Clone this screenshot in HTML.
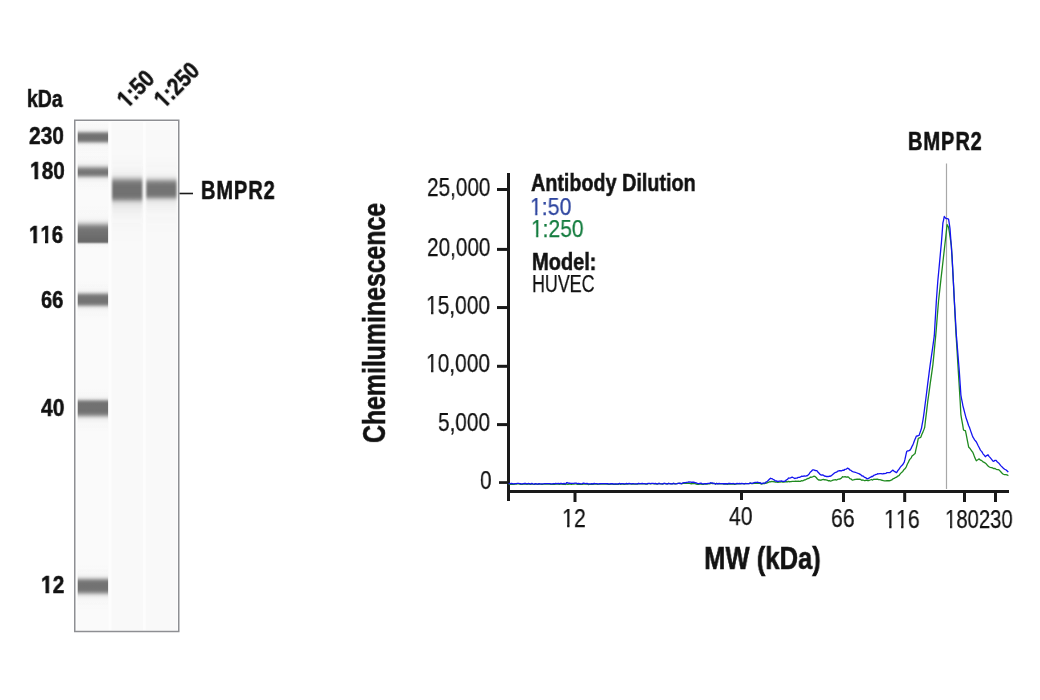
<!DOCTYPE html>
<html><head><meta charset="utf-8">
<style>
html,body{margin:0;padding:0;background:#fff;}
body{width:1040px;height:700px;position:relative;overflow:hidden;font-family:"Liberation Sans",sans-serif;color:#121212;}
.t{position:absolute;white-space:nowrap;line-height:1;transform-origin:0 0;will-change:transform;}
.b{font-weight:bold;-webkit-text-stroke:0.55px currentColor;}
.t:not(.b){-webkit-text-stroke:0.25px currentColor;}
svg{position:absolute;left:0;top:0;}
</style></head><body>
<svg width="1040" height="700" viewBox="0 0 1040 700">
<defs>
<filter id="bl" x="-20%" y="-50%" width="140%" height="200%"><feGaussianBlur stdDeviation="0.7 2"/></filter>
<filter id="blx" x="-20%" y="-20%" width="140%" height="140%"><feGaussianBlur stdDeviation="0.8 1"/></filter>
</defs>
<!-- blot -->
<rect x="75" y="120.5" width="103.5" height="511" fill="#fdfdfd"/>
<rect x="77.2" y="122" width="31.3" height="508.5" fill="#fafafa"/>
<rect x="111.5" y="122" width="31.5" height="508.5" fill="#f9f9f9"/>
<rect x="145.8" y="122" width="31.3" height="508.5" fill="#f9f9f9"/>
<defs><linearGradient id="lb0" gradientUnits="userSpaceOnUse" x1="0" y1="117.90" x2="0" y2="156.70"><stop offset="0.0000" stop-color="#717171" stop-opacity="0.000"/><stop offset="0.0129" stop-color="#717171" stop-opacity="0.000"/><stop offset="0.0258" stop-color="#717171" stop-opacity="0.000"/><stop offset="0.0387" stop-color="#717171" stop-opacity="0.001"/><stop offset="0.0515" stop-color="#717171" stop-opacity="0.001"/><stop offset="0.0644" stop-color="#717171" stop-opacity="0.001"/><stop offset="0.0773" stop-color="#717171" stop-opacity="0.001"/><stop offset="0.0902" stop-color="#717171" stop-opacity="0.002"/><stop offset="0.1031" stop-color="#717171" stop-opacity="0.002"/><stop offset="0.1160" stop-color="#717171" stop-opacity="0.003"/><stop offset="0.1289" stop-color="#717171" stop-opacity="0.004"/><stop offset="0.1418" stop-color="#717171" stop-opacity="0.005"/><stop offset="0.1546" stop-color="#717171" stop-opacity="0.006"/><stop offset="0.1675" stop-color="#717171" stop-opacity="0.008"/><stop offset="0.1804" stop-color="#717171" stop-opacity="0.010"/><stop offset="0.1933" stop-color="#717171" stop-opacity="0.012"/><stop offset="0.2062" stop-color="#717171" stop-opacity="0.014"/><stop offset="0.2191" stop-color="#717171" stop-opacity="0.017"/><stop offset="0.2320" stop-color="#717171" stop-opacity="0.020"/><stop offset="0.2448" stop-color="#717171" stop-opacity="0.024"/><stop offset="0.2577" stop-color="#717171" stop-opacity="0.029"/><stop offset="0.2706" stop-color="#717171" stop-opacity="0.038"/><stop offset="0.2835" stop-color="#717171" stop-opacity="0.051"/><stop offset="0.2964" stop-color="#717171" stop-opacity="0.072"/><stop offset="0.3093" stop-color="#717171" stop-opacity="0.107"/><stop offset="0.3222" stop-color="#717171" stop-opacity="0.159"/><stop offset="0.3351" stop-color="#717171" stop-opacity="0.233"/><stop offset="0.3479" stop-color="#717171" stop-opacity="0.327"/><stop offset="0.3608" stop-color="#717171" stop-opacity="0.437"/><stop offset="0.3737" stop-color="#717171" stop-opacity="0.556"/><stop offset="0.3866" stop-color="#717171" stop-opacity="0.670"/><stop offset="0.3995" stop-color="#717171" stop-opacity="0.772"/><stop offset="0.4124" stop-color="#717171" stop-opacity="0.853"/><stop offset="0.4253" stop-color="#717171" stop-opacity="0.913"/><stop offset="0.4381" stop-color="#717171" stop-opacity="0.952"/><stop offset="0.4510" stop-color="#717171" stop-opacity="0.976"/><stop offset="0.4639" stop-color="#717171" stop-opacity="0.989"/><stop offset="0.4768" stop-color="#717171" stop-opacity="0.995"/><stop offset="0.4897" stop-color="#717171" stop-opacity="0.998"/><stop offset="0.5026" stop-color="#717171" stop-opacity="0.998"/><stop offset="0.5155" stop-color="#717171" stop-opacity="0.997"/><stop offset="0.5284" stop-color="#717171" stop-opacity="0.993"/><stop offset="0.5412" stop-color="#717171" stop-opacity="0.985"/><stop offset="0.5541" stop-color="#717171" stop-opacity="0.968"/><stop offset="0.5670" stop-color="#717171" stop-opacity="0.939"/><stop offset="0.5799" stop-color="#717171" stop-opacity="0.892"/><stop offset="0.5928" stop-color="#717171" stop-opacity="0.823"/><stop offset="0.6057" stop-color="#717171" stop-opacity="0.733"/><stop offset="0.6186" stop-color="#717171" stop-opacity="0.626"/><stop offset="0.6314" stop-color="#717171" stop-opacity="0.508"/><stop offset="0.6443" stop-color="#717171" stop-opacity="0.392"/><stop offset="0.6572" stop-color="#717171" stop-opacity="0.287"/><stop offset="0.6701" stop-color="#717171" stop-opacity="0.201"/><stop offset="0.6830" stop-color="#717171" stop-opacity="0.136"/><stop offset="0.6959" stop-color="#717171" stop-opacity="0.091"/><stop offset="0.7088" stop-color="#717171" stop-opacity="0.062"/><stop offset="0.7216" stop-color="#717171" stop-opacity="0.045"/><stop offset="0.7345" stop-color="#717171" stop-opacity="0.034"/><stop offset="0.7474" stop-color="#717171" stop-opacity="0.027"/><stop offset="0.7603" stop-color="#717171" stop-opacity="0.022"/><stop offset="0.7732" stop-color="#717171" stop-opacity="0.019"/><stop offset="0.7861" stop-color="#717171" stop-opacity="0.016"/><stop offset="0.7990" stop-color="#717171" stop-opacity="0.013"/><stop offset="0.8119" stop-color="#717171" stop-opacity="0.011"/><stop offset="0.8247" stop-color="#717171" stop-opacity="0.009"/><stop offset="0.8376" stop-color="#717171" stop-opacity="0.007"/><stop offset="0.8505" stop-color="#717171" stop-opacity="0.006"/><stop offset="0.8634" stop-color="#717171" stop-opacity="0.005"/><stop offset="0.8763" stop-color="#717171" stop-opacity="0.004"/><stop offset="0.8892" stop-color="#717171" stop-opacity="0.003"/><stop offset="0.9021" stop-color="#717171" stop-opacity="0.002"/><stop offset="0.9149" stop-color="#717171" stop-opacity="0.002"/><stop offset="0.9278" stop-color="#717171" stop-opacity="0.001"/><stop offset="0.9407" stop-color="#717171" stop-opacity="0.001"/><stop offset="0.9536" stop-color="#717171" stop-opacity="0.001"/><stop offset="0.9665" stop-color="#717171" stop-opacity="0.001"/><stop offset="0.9794" stop-color="#717171" stop-opacity="0.000"/><stop offset="0.9923" stop-color="#717171" stop-opacity="0.000"/></linearGradient>
<linearGradient id="lb1" gradientUnits="userSpaceOnUse" x1="0" y1="147.60" x2="0" y2="193.70"><stop offset="0.0000" stop-color="#747474" stop-opacity="0.000"/><stop offset="0.0108" stop-color="#747474" stop-opacity="0.000"/><stop offset="0.0217" stop-color="#747474" stop-opacity="0.000"/><stop offset="0.0325" stop-color="#747474" stop-opacity="0.000"/><stop offset="0.0434" stop-color="#747474" stop-opacity="0.001"/><stop offset="0.0542" stop-color="#747474" stop-opacity="0.001"/><stop offset="0.0651" stop-color="#747474" stop-opacity="0.001"/><stop offset="0.0759" stop-color="#747474" stop-opacity="0.001"/><stop offset="0.0868" stop-color="#747474" stop-opacity="0.001"/><stop offset="0.0976" stop-color="#747474" stop-opacity="0.002"/><stop offset="0.1085" stop-color="#747474" stop-opacity="0.002"/><stop offset="0.1193" stop-color="#747474" stop-opacity="0.002"/><stop offset="0.1302" stop-color="#747474" stop-opacity="0.003"/><stop offset="0.1410" stop-color="#747474" stop-opacity="0.004"/><stop offset="0.1518" stop-color="#747474" stop-opacity="0.004"/><stop offset="0.1627" stop-color="#747474" stop-opacity="0.005"/><stop offset="0.1735" stop-color="#747474" stop-opacity="0.006"/><stop offset="0.1844" stop-color="#747474" stop-opacity="0.007"/><stop offset="0.1952" stop-color="#747474" stop-opacity="0.008"/><stop offset="0.2061" stop-color="#747474" stop-opacity="0.009"/><stop offset="0.2169" stop-color="#747474" stop-opacity="0.011"/><stop offset="0.2278" stop-color="#747474" stop-opacity="0.012"/><stop offset="0.2386" stop-color="#747474" stop-opacity="0.014"/><stop offset="0.2495" stop-color="#747474" stop-opacity="0.016"/><stop offset="0.2603" stop-color="#747474" stop-opacity="0.018"/><stop offset="0.2711" stop-color="#747474" stop-opacity="0.021"/><stop offset="0.2820" stop-color="#747474" stop-opacity="0.024"/><stop offset="0.2928" stop-color="#747474" stop-opacity="0.027"/><stop offset="0.3037" stop-color="#747474" stop-opacity="0.032"/><stop offset="0.3145" stop-color="#747474" stop-opacity="0.038"/><stop offset="0.3254" stop-color="#747474" stop-opacity="0.048"/><stop offset="0.3362" stop-color="#747474" stop-opacity="0.061"/><stop offset="0.3471" stop-color="#747474" stop-opacity="0.080"/><stop offset="0.3579" stop-color="#747474" stop-opacity="0.107"/><stop offset="0.3688" stop-color="#747474" stop-opacity="0.143"/><stop offset="0.3796" stop-color="#747474" stop-opacity="0.190"/><stop offset="0.3905" stop-color="#747474" stop-opacity="0.248"/><stop offset="0.4013" stop-color="#747474" stop-opacity="0.317"/><stop offset="0.4121" stop-color="#747474" stop-opacity="0.395"/><stop offset="0.4230" stop-color="#747474" stop-opacity="0.480"/><stop offset="0.4338" stop-color="#747474" stop-opacity="0.566"/><stop offset="0.4447" stop-color="#747474" stop-opacity="0.650"/><stop offset="0.4555" stop-color="#747474" stop-opacity="0.727"/><stop offset="0.4664" stop-color="#747474" stop-opacity="0.796"/><stop offset="0.4772" stop-color="#747474" stop-opacity="0.853"/><stop offset="0.4881" stop-color="#737373" stop-opacity="0.898"/><stop offset="0.4989" stop-color="#737373" stop-opacity="0.932"/><stop offset="0.5098" stop-color="#737373" stop-opacity="0.956"/><stop offset="0.5206" stop-color="#737373" stop-opacity="0.970"/><stop offset="0.5315" stop-color="#737373" stop-opacity="0.977"/><stop offset="0.5423" stop-color="#737373" stop-opacity="0.976"/><stop offset="0.5531" stop-color="#737373" stop-opacity="0.965"/><stop offset="0.5640" stop-color="#737373" stop-opacity="0.945"/><stop offset="0.5748" stop-color="#737373" stop-opacity="0.912"/><stop offset="0.5857" stop-color="#727272" stop-opacity="0.864"/><stop offset="0.5965" stop-color="#727272" stop-opacity="0.800"/><stop offset="0.6074" stop-color="#727272" stop-opacity="0.721"/><stop offset="0.6182" stop-color="#727272" stop-opacity="0.629"/><stop offset="0.6291" stop-color="#727272" stop-opacity="0.531"/><stop offset="0.6399" stop-color="#727272" stop-opacity="0.432"/><stop offset="0.6508" stop-color="#727272" stop-opacity="0.338"/><stop offset="0.6616" stop-color="#727272" stop-opacity="0.256"/><stop offset="0.6725" stop-color="#727272" stop-opacity="0.188"/><stop offset="0.6833" stop-color="#727272" stop-opacity="0.135"/><stop offset="0.6941" stop-color="#727272" stop-opacity="0.096"/><stop offset="0.7050" stop-color="#727272" stop-opacity="0.069"/><stop offset="0.7158" stop-color="#727272" stop-opacity="0.051"/><stop offset="0.7267" stop-color="#727272" stop-opacity="0.040"/><stop offset="0.7375" stop-color="#727272" stop-opacity="0.032"/><stop offset="0.7484" stop-color="#727272" stop-opacity="0.027"/><stop offset="0.7592" stop-color="#727272" stop-opacity="0.023"/><stop offset="0.7701" stop-color="#727272" stop-opacity="0.020"/><stop offset="0.7809" stop-color="#727272" stop-opacity="0.017"/><stop offset="0.7918" stop-color="#727272" stop-opacity="0.015"/><stop offset="0.8026" stop-color="#727272" stop-opacity="0.013"/><stop offset="0.8134" stop-color="#727272" stop-opacity="0.011"/><stop offset="0.8243" stop-color="#727272" stop-opacity="0.009"/><stop offset="0.8351" stop-color="#727272" stop-opacity="0.008"/><stop offset="0.8460" stop-color="#727272" stop-opacity="0.006"/><stop offset="0.8568" stop-color="#727272" stop-opacity="0.005"/><stop offset="0.8677" stop-color="#727272" stop-opacity="0.004"/><stop offset="0.8785" stop-color="#727272" stop-opacity="0.004"/><stop offset="0.8894" stop-color="#727272" stop-opacity="0.003"/><stop offset="0.9002" stop-color="#727272" stop-opacity="0.002"/><stop offset="0.9111" stop-color="#727272" stop-opacity="0.002"/><stop offset="0.9219" stop-color="#727272" stop-opacity="0.001"/><stop offset="0.9328" stop-color="#727272" stop-opacity="0.001"/><stop offset="0.9436" stop-color="#727272" stop-opacity="0.001"/><stop offset="0.9544" stop-color="#727272" stop-opacity="0.001"/><stop offset="0.9653" stop-color="#727272" stop-opacity="0.001"/><stop offset="0.9761" stop-color="#727272" stop-opacity="0.000"/><stop offset="0.9870" stop-color="#727272" stop-opacity="0.000"/><stop offset="0.9978" stop-color="#727272" stop-opacity="0.000"/></linearGradient>
<linearGradient id="lb2" gradientUnits="userSpaceOnUse" x1="0" y1="200.90" x2="0" y2="250.20"><stop offset="0.0000" stop-color="#7a7a7a" stop-opacity="0.000"/><stop offset="0.0101" stop-color="#7a7a7a" stop-opacity="0.000"/><stop offset="0.0203" stop-color="#7a7a7a" stop-opacity="0.000"/><stop offset="0.0304" stop-color="#7a7a7a" stop-opacity="0.000"/><stop offset="0.0406" stop-color="#7a7a7a" stop-opacity="0.000"/><stop offset="0.0507" stop-color="#7a7a7a" stop-opacity="0.001"/><stop offset="0.0609" stop-color="#7a7a7a" stop-opacity="0.001"/><stop offset="0.0710" stop-color="#7a7a7a" stop-opacity="0.001"/><stop offset="0.0811" stop-color="#7a7a7a" stop-opacity="0.001"/><stop offset="0.0913" stop-color="#7a7a7a" stop-opacity="0.001"/><stop offset="0.1014" stop-color="#7a7a7a" stop-opacity="0.001"/><stop offset="0.1116" stop-color="#7a7a7a" stop-opacity="0.002"/><stop offset="0.1217" stop-color="#7a7a7a" stop-opacity="0.002"/><stop offset="0.1318" stop-color="#7a7a7a" stop-opacity="0.002"/><stop offset="0.1420" stop-color="#7a7a7a" stop-opacity="0.003"/><stop offset="0.1521" stop-color="#7a7a7a" stop-opacity="0.003"/><stop offset="0.1623" stop-color="#7a7a7a" stop-opacity="0.004"/><stop offset="0.1724" stop-color="#7a7a7a" stop-opacity="0.005"/><stop offset="0.1826" stop-color="#7a7a7a" stop-opacity="0.005"/><stop offset="0.1927" stop-color="#7a7a7a" stop-opacity="0.006"/><stop offset="0.2028" stop-color="#7a7a7a" stop-opacity="0.007"/><stop offset="0.2130" stop-color="#7a7a7a" stop-opacity="0.008"/><stop offset="0.2231" stop-color="#7a7a7a" stop-opacity="0.009"/><stop offset="0.2333" stop-color="#7a7a7a" stop-opacity="0.010"/><stop offset="0.2434" stop-color="#7a7a7a" stop-opacity="0.011"/><stop offset="0.2535" stop-color="#7a7a7a" stop-opacity="0.013"/><stop offset="0.2637" stop-color="#7a7a7a" stop-opacity="0.014"/><stop offset="0.2738" stop-color="#7a7a7a" stop-opacity="0.016"/><stop offset="0.2840" stop-color="#7a7a7a" stop-opacity="0.018"/><stop offset="0.2941" stop-color="#7a7a7a" stop-opacity="0.020"/><stop offset="0.3043" stop-color="#7a7a7a" stop-opacity="0.022"/><stop offset="0.3144" stop-color="#7a7a7a" stop-opacity="0.024"/><stop offset="0.3245" stop-color="#7a7a7a" stop-opacity="0.028"/><stop offset="0.3347" stop-color="#7a7a7a" stop-opacity="0.032"/><stop offset="0.3448" stop-color="#7a7a7a" stop-opacity="0.037"/><stop offset="0.3550" stop-color="#7a7a7a" stop-opacity="0.044"/><stop offset="0.3651" stop-color="#7a7a7a" stop-opacity="0.053"/><stop offset="0.3753" stop-color="#7a7a7a" stop-opacity="0.066"/><stop offset="0.3854" stop-color="#7a7a7a" stop-opacity="0.084"/><stop offset="0.3955" stop-color="#7a7a7a" stop-opacity="0.107"/><stop offset="0.4057" stop-color="#7a7a7a" stop-opacity="0.137"/><stop offset="0.4158" stop-color="#7a7a7a" stop-opacity="0.174"/><stop offset="0.4260" stop-color="#7a7a7a" stop-opacity="0.220"/><stop offset="0.4361" stop-color="#7a7a7a" stop-opacity="0.274"/><stop offset="0.4462" stop-color="#7a7a7a" stop-opacity="0.335"/><stop offset="0.4564" stop-color="#7a7a7a" stop-opacity="0.402"/><stop offset="0.4665" stop-color="#7a7a7a" stop-opacity="0.474"/><stop offset="0.4767" stop-color="#7a7a7a" stop-opacity="0.547"/><stop offset="0.4868" stop-color="#797979" stop-opacity="0.619"/><stop offset="0.4970" stop-color="#797979" stop-opacity="0.687"/><stop offset="0.5071" stop-color="#787878" stop-opacity="0.750"/><stop offset="0.5172" stop-color="#787878" stop-opacity="0.806"/><stop offset="0.5274" stop-color="#777777" stop-opacity="0.853"/><stop offset="0.5375" stop-color="#777777" stop-opacity="0.893"/><stop offset="0.5477" stop-color="#767676" stop-opacity="0.924"/><stop offset="0.5578" stop-color="#767676" stop-opacity="0.947"/><stop offset="0.5680" stop-color="#757575" stop-opacity="0.965"/><stop offset="0.5781" stop-color="#757575" stop-opacity="0.977"/><stop offset="0.5882" stop-color="#747474" stop-opacity="0.986"/><stop offset="0.5984" stop-color="#737373" stop-opacity="0.991"/><stop offset="0.6085" stop-color="#737373" stop-opacity="0.995"/><stop offset="0.6187" stop-color="#727272" stop-opacity="0.997"/><stop offset="0.6288" stop-color="#727272" stop-opacity="0.998"/><stop offset="0.6389" stop-color="#717171" stop-opacity="0.999"/><stop offset="0.6491" stop-color="#717171" stop-opacity="1.000"/><stop offset="0.6592" stop-color="#707070" stop-opacity="1.000"/><stop offset="0.6694" stop-color="#707070" stop-opacity="1.000"/><stop offset="0.6795" stop-color="#6f6f6f" stop-opacity="1.000"/><stop offset="0.6897" stop-color="#6f6f6f" stop-opacity="1.000"/><stop offset="0.6998" stop-color="#6e6e6e" stop-opacity="1.000"/><stop offset="0.7099" stop-color="#6e6e6e" stop-opacity="1.000"/><stop offset="0.7201" stop-color="#6d6d6d" stop-opacity="1.000"/><stop offset="0.7302" stop-color="#6d6d6d" stop-opacity="1.000"/><stop offset="0.7404" stop-color="#6c6c6c" stop-opacity="1.000"/><stop offset="0.7505" stop-color="#6b6b6b" stop-opacity="1.000"/><stop offset="0.7606" stop-color="#6b6b6b" stop-opacity="1.000"/><stop offset="0.7708" stop-color="#6a6a6a" stop-opacity="1.000"/><stop offset="0.7809" stop-color="#6a6a6a" stop-opacity="1.000"/><stop offset="0.7911" stop-color="#696969" stop-opacity="1.000"/><stop offset="0.8012" stop-color="#696969" stop-opacity="0.999"/><stop offset="0.8114" stop-color="#686868" stop-opacity="0.996"/><stop offset="0.8215" stop-color="#686868" stop-opacity="0.979"/><stop offset="0.8316" stop-color="#676767" stop-opacity="0.922"/><stop offset="0.8418" stop-color="#676767" stop-opacity="0.790"/><stop offset="0.8519" stop-color="#666666" stop-opacity="0.579"/><stop offset="0.8621" stop-color="#666666" stop-opacity="0.348"/><stop offset="0.8722" stop-color="#666666" stop-opacity="0.172"/><stop offset="0.8824" stop-color="#666666" stop-opacity="0.078"/><stop offset="0.8925" stop-color="#666666" stop-opacity="0.040"/><stop offset="0.9026" stop-color="#666666" stop-opacity="0.025"/><stop offset="0.9128" stop-color="#666666" stop-opacity="0.018"/><stop offset="0.9229" stop-color="#666666" stop-opacity="0.012"/><stop offset="0.9331" stop-color="#666666" stop-opacity="0.008"/><stop offset="0.9432" stop-color="#666666" stop-opacity="0.005"/><stop offset="0.9533" stop-color="#666666" stop-opacity="0.003"/><stop offset="0.9635" stop-color="#666666" stop-opacity="0.002"/><stop offset="0.9736" stop-color="#666666" stop-opacity="0.001"/><stop offset="0.9838" stop-color="#666666" stop-opacity="0.001"/><stop offset="0.9939" stop-color="#666666" stop-opacity="0.000"/></linearGradient>
<linearGradient id="lb3" gradientUnits="userSpaceOnUse" x1="0" y1="277.50" x2="0" y2="321.90"><stop offset="0.0000" stop-color="#737373" stop-opacity="0.000"/><stop offset="0.0113" stop-color="#737373" stop-opacity="0.000"/><stop offset="0.0225" stop-color="#737373" stop-opacity="0.000"/><stop offset="0.0338" stop-color="#737373" stop-opacity="0.001"/><stop offset="0.0450" stop-color="#737373" stop-opacity="0.001"/><stop offset="0.0563" stop-color="#737373" stop-opacity="0.001"/><stop offset="0.0676" stop-color="#737373" stop-opacity="0.001"/><stop offset="0.0788" stop-color="#737373" stop-opacity="0.002"/><stop offset="0.0901" stop-color="#737373" stop-opacity="0.002"/><stop offset="0.1014" stop-color="#737373" stop-opacity="0.002"/><stop offset="0.1126" stop-color="#737373" stop-opacity="0.003"/><stop offset="0.1239" stop-color="#737373" stop-opacity="0.004"/><stop offset="0.1351" stop-color="#737373" stop-opacity="0.005"/><stop offset="0.1464" stop-color="#737373" stop-opacity="0.006"/><stop offset="0.1577" stop-color="#737373" stop-opacity="0.007"/><stop offset="0.1689" stop-color="#737373" stop-opacity="0.009"/><stop offset="0.1802" stop-color="#737373" stop-opacity="0.010"/><stop offset="0.1914" stop-color="#737373" stop-opacity="0.012"/><stop offset="0.2027" stop-color="#737373" stop-opacity="0.014"/><stop offset="0.2140" stop-color="#737373" stop-opacity="0.017"/><stop offset="0.2252" stop-color="#737373" stop-opacity="0.019"/><stop offset="0.2365" stop-color="#737373" stop-opacity="0.023"/><stop offset="0.2477" stop-color="#737373" stop-opacity="0.027"/><stop offset="0.2590" stop-color="#737373" stop-opacity="0.033"/><stop offset="0.2703" stop-color="#737373" stop-opacity="0.041"/><stop offset="0.2815" stop-color="#737373" stop-opacity="0.055"/><stop offset="0.2928" stop-color="#737373" stop-opacity="0.075"/><stop offset="0.3041" stop-color="#737373" stop-opacity="0.107"/><stop offset="0.3153" stop-color="#737373" stop-opacity="0.152"/><stop offset="0.3266" stop-color="#737373" stop-opacity="0.214"/><stop offset="0.3378" stop-color="#737373" stop-opacity="0.293"/><stop offset="0.3491" stop-color="#737373" stop-opacity="0.387"/><stop offset="0.3604" stop-color="#737373" stop-opacity="0.490"/><stop offset="0.3716" stop-color="#737373" stop-opacity="0.595"/><stop offset="0.3829" stop-color="#737373" stop-opacity="0.694"/><stop offset="0.3941" stop-color="#737373" stop-opacity="0.782"/><stop offset="0.4054" stop-color="#737373" stop-opacity="0.853"/><stop offset="0.4167" stop-color="#737373" stop-opacity="0.907"/><stop offset="0.4279" stop-color="#737373" stop-opacity="0.945"/><stop offset="0.4392" stop-color="#737373" stop-opacity="0.969"/><stop offset="0.4505" stop-color="#737373" stop-opacity="0.984"/><stop offset="0.4617" stop-color="#737373" stop-opacity="0.992"/><stop offset="0.4730" stop-color="#737373" stop-opacity="0.996"/><stop offset="0.4842" stop-color="#737373" stop-opacity="0.998"/><stop offset="0.4955" stop-color="#737373" stop-opacity="0.999"/><stop offset="0.5068" stop-color="#737373" stop-opacity="0.999"/><stop offset="0.5180" stop-color="#737373" stop-opacity="0.998"/><stop offset="0.5293" stop-color="#737373" stop-opacity="0.996"/><stop offset="0.5405" stop-color="#737373" stop-opacity="0.991"/><stop offset="0.5518" stop-color="#737373" stop-opacity="0.982"/><stop offset="0.5631" stop-color="#737373" stop-opacity="0.965"/><stop offset="0.5743" stop-color="#737373" stop-opacity="0.939"/><stop offset="0.5856" stop-color="#737373" stop-opacity="0.898"/><stop offset="0.5968" stop-color="#737373" stop-opacity="0.840"/><stop offset="0.6081" stop-color="#737373" stop-opacity="0.766"/><stop offset="0.6194" stop-color="#737373" stop-opacity="0.675"/><stop offset="0.6306" stop-color="#737373" stop-opacity="0.574"/><stop offset="0.6419" stop-color="#737373" stop-opacity="0.469"/><stop offset="0.6532" stop-color="#737373" stop-opacity="0.367"/><stop offset="0.6644" stop-color="#737373" stop-opacity="0.276"/><stop offset="0.6757" stop-color="#737373" stop-opacity="0.201"/><stop offset="0.6869" stop-color="#737373" stop-opacity="0.142"/><stop offset="0.6982" stop-color="#737373" stop-opacity="0.099"/><stop offset="0.7095" stop-color="#737373" stop-opacity="0.070"/><stop offset="0.7207" stop-color="#737373" stop-opacity="0.051"/><stop offset="0.7320" stop-color="#737373" stop-opacity="0.039"/><stop offset="0.7432" stop-color="#737373" stop-opacity="0.031"/><stop offset="0.7545" stop-color="#737373" stop-opacity="0.026"/><stop offset="0.7658" stop-color="#737373" stop-opacity="0.022"/><stop offset="0.7770" stop-color="#737373" stop-opacity="0.019"/><stop offset="0.7883" stop-color="#737373" stop-opacity="0.016"/><stop offset="0.7995" stop-color="#737373" stop-opacity="0.014"/><stop offset="0.8108" stop-color="#737373" stop-opacity="0.012"/><stop offset="0.8221" stop-color="#737373" stop-opacity="0.010"/><stop offset="0.8333" stop-color="#737373" stop-opacity="0.008"/><stop offset="0.8446" stop-color="#737373" stop-opacity="0.007"/><stop offset="0.8559" stop-color="#737373" stop-opacity="0.006"/><stop offset="0.8671" stop-color="#737373" stop-opacity="0.005"/><stop offset="0.8784" stop-color="#737373" stop-opacity="0.004"/><stop offset="0.8896" stop-color="#737373" stop-opacity="0.003"/><stop offset="0.9009" stop-color="#737373" stop-opacity="0.002"/><stop offset="0.9122" stop-color="#737373" stop-opacity="0.002"/><stop offset="0.9234" stop-color="#737373" stop-opacity="0.001"/><stop offset="0.9347" stop-color="#737373" stop-opacity="0.001"/><stop offset="0.9459" stop-color="#737373" stop-opacity="0.001"/><stop offset="0.9572" stop-color="#737373" stop-opacity="0.001"/><stop offset="0.9685" stop-color="#737373" stop-opacity="0.000"/><stop offset="0.9797" stop-color="#737373" stop-opacity="0.000"/><stop offset="0.9910" stop-color="#737373" stop-opacity="0.000"/></linearGradient>
<linearGradient id="lb4" gradientUnits="userSpaceOnUse" x1="0" y1="385.90" x2="0" y2="435.80"><stop offset="0.0000" stop-color="#717171" stop-opacity="0.000"/><stop offset="0.0100" stop-color="#717171" stop-opacity="0.000"/><stop offset="0.0200" stop-color="#717171" stop-opacity="0.000"/><stop offset="0.0301" stop-color="#717171" stop-opacity="0.001"/><stop offset="0.0401" stop-color="#717171" stop-opacity="0.001"/><stop offset="0.0501" stop-color="#717171" stop-opacity="0.001"/><stop offset="0.0601" stop-color="#717171" stop-opacity="0.001"/><stop offset="0.0701" stop-color="#717171" stop-opacity="0.002"/><stop offset="0.0802" stop-color="#717171" stop-opacity="0.002"/><stop offset="0.0902" stop-color="#717171" stop-opacity="0.003"/><stop offset="0.1002" stop-color="#717171" stop-opacity="0.004"/><stop offset="0.1102" stop-color="#717171" stop-opacity="0.005"/><stop offset="0.1202" stop-color="#717171" stop-opacity="0.006"/><stop offset="0.1303" stop-color="#717171" stop-opacity="0.008"/><stop offset="0.1403" stop-color="#717171" stop-opacity="0.010"/><stop offset="0.1503" stop-color="#717171" stop-opacity="0.012"/><stop offset="0.1603" stop-color="#717171" stop-opacity="0.014"/><stop offset="0.1703" stop-color="#717171" stop-opacity="0.017"/><stop offset="0.1804" stop-color="#717171" stop-opacity="0.020"/><stop offset="0.1904" stop-color="#717171" stop-opacity="0.024"/><stop offset="0.2004" stop-color="#717171" stop-opacity="0.029"/><stop offset="0.2104" stop-color="#717171" stop-opacity="0.038"/><stop offset="0.2204" stop-color="#717171" stop-opacity="0.051"/><stop offset="0.2305" stop-color="#717171" stop-opacity="0.072"/><stop offset="0.2405" stop-color="#717171" stop-opacity="0.107"/><stop offset="0.2505" stop-color="#717171" stop-opacity="0.159"/><stop offset="0.2605" stop-color="#717171" stop-opacity="0.233"/><stop offset="0.2705" stop-color="#717171" stop-opacity="0.327"/><stop offset="0.2806" stop-color="#717171" stop-opacity="0.437"/><stop offset="0.2906" stop-color="#717171" stop-opacity="0.556"/><stop offset="0.3006" stop-color="#717171" stop-opacity="0.670"/><stop offset="0.3106" stop-color="#717171" stop-opacity="0.772"/><stop offset="0.3206" stop-color="#717171" stop-opacity="0.853"/><stop offset="0.3307" stop-color="#717171" stop-opacity="0.913"/><stop offset="0.3407" stop-color="#717171" stop-opacity="0.952"/><stop offset="0.3507" stop-color="#717171" stop-opacity="0.976"/><stop offset="0.3607" stop-color="#717171" stop-opacity="0.989"/><stop offset="0.3707" stop-color="#717171" stop-opacity="0.995"/><stop offset="0.3808" stop-color="#717171" stop-opacity="0.998"/><stop offset="0.3908" stop-color="#717171" stop-opacity="0.999"/><stop offset="0.4008" stop-color="#717171" stop-opacity="1.000"/><stop offset="0.4108" stop-color="#717171" stop-opacity="1.000"/><stop offset="0.4208" stop-color="#717171" stop-opacity="1.000"/><stop offset="0.4309" stop-color="#717171" stop-opacity="1.000"/><stop offset="0.4409" stop-color="#717171" stop-opacity="1.000"/><stop offset="0.4509" stop-color="#717171" stop-opacity="1.000"/><stop offset="0.4609" stop-color="#717171" stop-opacity="0.999"/><stop offset="0.4709" stop-color="#717171" stop-opacity="0.999"/><stop offset="0.4810" stop-color="#717171" stop-opacity="0.997"/><stop offset="0.4910" stop-color="#717171" stop-opacity="0.995"/><stop offset="0.5010" stop-color="#717171" stop-opacity="0.991"/><stop offset="0.5110" stop-color="#717171" stop-opacity="0.983"/><stop offset="0.5210" stop-color="#717171" stop-opacity="0.971"/><stop offset="0.5311" stop-color="#717171" stop-opacity="0.953"/><stop offset="0.5411" stop-color="#717171" stop-opacity="0.927"/><stop offset="0.5511" stop-color="#717171" stop-opacity="0.891"/><stop offset="0.5611" stop-color="#717171" stop-opacity="0.843"/><stop offset="0.5711" stop-color="#717171" stop-opacity="0.784"/><stop offset="0.5812" stop-color="#717171" stop-opacity="0.713"/><stop offset="0.5912" stop-color="#717171" stop-opacity="0.634"/><stop offset="0.6012" stop-color="#717171" stop-opacity="0.549"/><stop offset="0.6112" stop-color="#717171" stop-opacity="0.463"/><stop offset="0.6212" stop-color="#717171" stop-opacity="0.380"/><stop offset="0.6313" stop-color="#717171" stop-opacity="0.303"/><stop offset="0.6413" stop-color="#717171" stop-opacity="0.236"/><stop offset="0.6513" stop-color="#717171" stop-opacity="0.180"/><stop offset="0.6613" stop-color="#717171" stop-opacity="0.135"/><stop offset="0.6713" stop-color="#717171" stop-opacity="0.101"/><stop offset="0.6814" stop-color="#717171" stop-opacity="0.076"/><stop offset="0.6914" stop-color="#717171" stop-opacity="0.058"/><stop offset="0.7014" stop-color="#717171" stop-opacity="0.046"/><stop offset="0.7114" stop-color="#717171" stop-opacity="0.037"/><stop offset="0.7214" stop-color="#717171" stop-opacity="0.031"/><stop offset="0.7315" stop-color="#717171" stop-opacity="0.027"/><stop offset="0.7415" stop-color="#717171" stop-opacity="0.023"/><stop offset="0.7515" stop-color="#717171" stop-opacity="0.020"/><stop offset="0.7615" stop-color="#717171" stop-opacity="0.018"/><stop offset="0.7715" stop-color="#717171" stop-opacity="0.016"/><stop offset="0.7816" stop-color="#717171" stop-opacity="0.014"/><stop offset="0.7916" stop-color="#717171" stop-opacity="0.012"/><stop offset="0.8016" stop-color="#717171" stop-opacity="0.011"/><stop offset="0.8116" stop-color="#717171" stop-opacity="0.009"/><stop offset="0.8216" stop-color="#717171" stop-opacity="0.008"/><stop offset="0.8317" stop-color="#717171" stop-opacity="0.007"/><stop offset="0.8417" stop-color="#717171" stop-opacity="0.006"/><stop offset="0.8517" stop-color="#717171" stop-opacity="0.005"/><stop offset="0.8617" stop-color="#717171" stop-opacity="0.004"/><stop offset="0.8717" stop-color="#717171" stop-opacity="0.003"/><stop offset="0.8818" stop-color="#717171" stop-opacity="0.003"/><stop offset="0.8918" stop-color="#717171" stop-opacity="0.002"/><stop offset="0.9018" stop-color="#717171" stop-opacity="0.002"/><stop offset="0.9118" stop-color="#717171" stop-opacity="0.002"/><stop offset="0.9218" stop-color="#717171" stop-opacity="0.001"/><stop offset="0.9319" stop-color="#717171" stop-opacity="0.001"/><stop offset="0.9419" stop-color="#717171" stop-opacity="0.001"/><stop offset="0.9519" stop-color="#717171" stop-opacity="0.001"/><stop offset="0.9619" stop-color="#717171" stop-opacity="0.001"/><stop offset="0.9719" stop-color="#717171" stop-opacity="0.000"/><stop offset="0.9820" stop-color="#717171" stop-opacity="0.000"/><stop offset="0.9920" stop-color="#717171" stop-opacity="0.000"/></linearGradient>
<linearGradient id="lb5" gradientUnits="userSpaceOnUse" x1="0" y1="561.10" x2="0" y2="613.20"><stop offset="0.0000" stop-color="#727272" stop-opacity="0.000"/><stop offset="0.0096" stop-color="#727272" stop-opacity="0.000"/><stop offset="0.0192" stop-color="#727272" stop-opacity="0.000"/><stop offset="0.0288" stop-color="#727272" stop-opacity="0.000"/><stop offset="0.0384" stop-color="#727272" stop-opacity="0.001"/><stop offset="0.0480" stop-color="#727272" stop-opacity="0.001"/><stop offset="0.0576" stop-color="#727272" stop-opacity="0.001"/><stop offset="0.0672" stop-color="#727272" stop-opacity="0.001"/><stop offset="0.0768" stop-color="#727272" stop-opacity="0.002"/><stop offset="0.0864" stop-color="#727272" stop-opacity="0.002"/><stop offset="0.0960" stop-color="#727272" stop-opacity="0.002"/><stop offset="0.1056" stop-color="#727272" stop-opacity="0.003"/><stop offset="0.1152" stop-color="#727272" stop-opacity="0.004"/><stop offset="0.1248" stop-color="#727272" stop-opacity="0.004"/><stop offset="0.1344" stop-color="#727272" stop-opacity="0.005"/><stop offset="0.1440" stop-color="#727272" stop-opacity="0.006"/><stop offset="0.1536" stop-color="#727272" stop-opacity="0.008"/><stop offset="0.1631" stop-color="#727272" stop-opacity="0.009"/><stop offset="0.1727" stop-color="#727272" stop-opacity="0.011"/><stop offset="0.1823" stop-color="#727272" stop-opacity="0.012"/><stop offset="0.1919" stop-color="#727272" stop-opacity="0.014"/><stop offset="0.2015" stop-color="#727272" stop-opacity="0.016"/><stop offset="0.2111" stop-color="#727272" stop-opacity="0.019"/><stop offset="0.2207" stop-color="#727272" stop-opacity="0.022"/><stop offset="0.2303" stop-color="#727272" stop-opacity="0.025"/><stop offset="0.2399" stop-color="#727272" stop-opacity="0.029"/><stop offset="0.2495" stop-color="#727272" stop-opacity="0.036"/><stop offset="0.2591" stop-color="#727272" stop-opacity="0.045"/><stop offset="0.2687" stop-color="#727272" stop-opacity="0.058"/><stop offset="0.2783" stop-color="#727272" stop-opacity="0.078"/><stop offset="0.2879" stop-color="#727272" stop-opacity="0.107"/><stop offset="0.2975" stop-color="#727272" stop-opacity="0.147"/><stop offset="0.3071" stop-color="#727272" stop-opacity="0.201"/><stop offset="0.3167" stop-color="#727272" stop-opacity="0.268"/><stop offset="0.3263" stop-color="#727272" stop-opacity="0.348"/><stop offset="0.3359" stop-color="#727272" stop-opacity="0.437"/><stop offset="0.3455" stop-color="#727272" stop-opacity="0.532"/><stop offset="0.3551" stop-color="#727272" stop-opacity="0.626"/><stop offset="0.3647" stop-color="#727272" stop-opacity="0.713"/><stop offset="0.3743" stop-color="#727272" stop-opacity="0.790"/><stop offset="0.3839" stop-color="#727272" stop-opacity="0.853"/><stop offset="0.3935" stop-color="#727272" stop-opacity="0.903"/><stop offset="0.4031" stop-color="#727272" stop-opacity="0.939"/><stop offset="0.4127" stop-color="#727272" stop-opacity="0.963"/><stop offset="0.4223" stop-color="#727272" stop-opacity="0.979"/><stop offset="0.4319" stop-color="#727272" stop-opacity="0.989"/><stop offset="0.4415" stop-color="#727272" stop-opacity="0.994"/><stop offset="0.4511" stop-color="#727272" stop-opacity="0.997"/><stop offset="0.4607" stop-color="#727272" stop-opacity="0.999"/><stop offset="0.4702" stop-color="#727272" stop-opacity="0.999"/><stop offset="0.4798" stop-color="#727272" stop-opacity="0.999"/><stop offset="0.4894" stop-color="#727272" stop-opacity="0.999"/><stop offset="0.4990" stop-color="#727272" stop-opacity="0.998"/><stop offset="0.5086" stop-color="#727272" stop-opacity="0.996"/><stop offset="0.5182" stop-color="#727272" stop-opacity="0.993"/><stop offset="0.5278" stop-color="#727272" stop-opacity="0.987"/><stop offset="0.5374" stop-color="#727272" stop-opacity="0.977"/><stop offset="0.5470" stop-color="#727272" stop-opacity="0.961"/><stop offset="0.5566" stop-color="#727272" stop-opacity="0.939"/><stop offset="0.5662" stop-color="#727272" stop-opacity="0.906"/><stop offset="0.5758" stop-color="#727272" stop-opacity="0.863"/><stop offset="0.5854" stop-color="#727272" stop-opacity="0.809"/><stop offset="0.5950" stop-color="#727272" stop-opacity="0.742"/><stop offset="0.6046" stop-color="#727272" stop-opacity="0.666"/><stop offset="0.6142" stop-color="#727272" stop-opacity="0.583"/><stop offset="0.6238" stop-color="#727272" stop-opacity="0.497"/><stop offset="0.6334" stop-color="#727272" stop-opacity="0.412"/><stop offset="0.6430" stop-color="#727272" stop-opacity="0.333"/><stop offset="0.6526" stop-color="#727272" stop-opacity="0.261"/><stop offset="0.6622" stop-color="#727272" stop-opacity="0.201"/><stop offset="0.6718" stop-color="#727272" stop-opacity="0.151"/><stop offset="0.6814" stop-color="#727272" stop-opacity="0.113"/><stop offset="0.6910" stop-color="#727272" stop-opacity="0.085"/><stop offset="0.7006" stop-color="#727272" stop-opacity="0.064"/><stop offset="0.7102" stop-color="#727272" stop-opacity="0.050"/><stop offset="0.7198" stop-color="#727272" stop-opacity="0.040"/><stop offset="0.7294" stop-color="#727272" stop-opacity="0.033"/><stop offset="0.7390" stop-color="#727272" stop-opacity="0.028"/><stop offset="0.7486" stop-color="#727272" stop-opacity="0.024"/><stop offset="0.7582" stop-color="#727272" stop-opacity="0.021"/><stop offset="0.7678" stop-color="#727272" stop-opacity="0.019"/><stop offset="0.7774" stop-color="#727272" stop-opacity="0.017"/><stop offset="0.7869" stop-color="#727272" stop-opacity="0.015"/><stop offset="0.7965" stop-color="#727272" stop-opacity="0.013"/><stop offset="0.8061" stop-color="#727272" stop-opacity="0.011"/><stop offset="0.8157" stop-color="#727272" stop-opacity="0.010"/><stop offset="0.8253" stop-color="#727272" stop-opacity="0.008"/><stop offset="0.8349" stop-color="#727272" stop-opacity="0.007"/><stop offset="0.8445" stop-color="#727272" stop-opacity="0.006"/><stop offset="0.8541" stop-color="#727272" stop-opacity="0.005"/><stop offset="0.8637" stop-color="#727272" stop-opacity="0.004"/><stop offset="0.8733" stop-color="#727272" stop-opacity="0.004"/><stop offset="0.8829" stop-color="#727272" stop-opacity="0.003"/><stop offset="0.8925" stop-color="#727272" stop-opacity="0.003"/><stop offset="0.9021" stop-color="#727272" stop-opacity="0.002"/><stop offset="0.9117" stop-color="#727272" stop-opacity="0.002"/><stop offset="0.9213" stop-color="#727272" stop-opacity="0.001"/><stop offset="0.9309" stop-color="#727272" stop-opacity="0.001"/><stop offset="0.9405" stop-color="#727272" stop-opacity="0.001"/><stop offset="0.9501" stop-color="#727272" stop-opacity="0.001"/><stop offset="0.9597" stop-color="#727272" stop-opacity="0.001"/><stop offset="0.9693" stop-color="#727272" stop-opacity="0.000"/><stop offset="0.9789" stop-color="#727272" stop-opacity="0.000"/><stop offset="0.9885" stop-color="#727272" stop-opacity="0.000"/><stop offset="0.9981" stop-color="#727272" stop-opacity="0.000"/></linearGradient>
<filter id="blh" x="-10%" y="-10%" width="120%" height="120%"><feGaussianBlur stdDeviation="0.65 0.01"/></filter>
<filter id="blh2" x="-10%" y="-10%" width="120%" height="120%"><feGaussianBlur stdDeviation="0.9 0.01"/></filter>
<linearGradient id="sb2" gradientUnits="userSpaceOnUse" x1="0" y1="125.00" x2="0" y2="244.80"><stop offset="0.0000" stop-color="#717171" stop-opacity="0.000"/><stop offset="0.0083" stop-color="#717171" stop-opacity="0.000"/><stop offset="0.0167" stop-color="#717171" stop-opacity="0.000"/><stop offset="0.0250" stop-color="#717171" stop-opacity="0.000"/><stop offset="0.0334" stop-color="#717171" stop-opacity="0.000"/><stop offset="0.0417" stop-color="#717171" stop-opacity="0.000"/><stop offset="0.0501" stop-color="#717171" stop-opacity="0.000"/><stop offset="0.0584" stop-color="#717171" stop-opacity="0.000"/><stop offset="0.0668" stop-color="#717171" stop-opacity="0.000"/><stop offset="0.0751" stop-color="#717171" stop-opacity="0.000"/><stop offset="0.0835" stop-color="#717171" stop-opacity="0.000"/><stop offset="0.0918" stop-color="#717171" stop-opacity="0.000"/><stop offset="0.1002" stop-color="#717171" stop-opacity="0.000"/><stop offset="0.1085" stop-color="#717171" stop-opacity="0.000"/><stop offset="0.1169" stop-color="#717171" stop-opacity="0.000"/><stop offset="0.1252" stop-color="#717171" stop-opacity="0.000"/><stop offset="0.1336" stop-color="#717171" stop-opacity="0.000"/><stop offset="0.1419" stop-color="#717171" stop-opacity="0.000"/><stop offset="0.1503" stop-color="#717171" stop-opacity="0.000"/><stop offset="0.1586" stop-color="#717171" stop-opacity="0.000"/><stop offset="0.1669" stop-color="#717171" stop-opacity="0.000"/><stop offset="0.1753" stop-color="#717171" stop-opacity="0.000"/><stop offset="0.1836" stop-color="#717171" stop-opacity="0.000"/><stop offset="0.1920" stop-color="#717171" stop-opacity="0.000"/><stop offset="0.2003" stop-color="#717171" stop-opacity="0.000"/><stop offset="0.2087" stop-color="#717171" stop-opacity="0.000"/><stop offset="0.2170" stop-color="#717171" stop-opacity="0.000"/><stop offset="0.2254" stop-color="#717171" stop-opacity="0.001"/><stop offset="0.2337" stop-color="#717171" stop-opacity="0.001"/><stop offset="0.2421" stop-color="#717171" stop-opacity="0.001"/><stop offset="0.2504" stop-color="#717171" stop-opacity="0.002"/><stop offset="0.2588" stop-color="#717171" stop-opacity="0.002"/><stop offset="0.2671" stop-color="#717171" stop-opacity="0.003"/><stop offset="0.2755" stop-color="#717171" stop-opacity="0.004"/><stop offset="0.2838" stop-color="#717171" stop-opacity="0.005"/><stop offset="0.2922" stop-color="#717171" stop-opacity="0.006"/><stop offset="0.3005" stop-color="#717171" stop-opacity="0.008"/><stop offset="0.3088" stop-color="#717171" stop-opacity="0.010"/><stop offset="0.3172" stop-color="#717171" stop-opacity="0.012"/><stop offset="0.3255" stop-color="#717171" stop-opacity="0.015"/><stop offset="0.3339" stop-color="#717171" stop-opacity="0.018"/><stop offset="0.3422" stop-color="#717171" stop-opacity="0.021"/><stop offset="0.3506" stop-color="#717171" stop-opacity="0.025"/><stop offset="0.3589" stop-color="#717171" stop-opacity="0.029"/><stop offset="0.3673" stop-color="#717171" stop-opacity="0.033"/><stop offset="0.3756" stop-color="#717171" stop-opacity="0.038"/><stop offset="0.3840" stop-color="#717171" stop-opacity="0.043"/><stop offset="0.3923" stop-color="#717171" stop-opacity="0.052"/><stop offset="0.3965" stop-color="#717171" stop-opacity="0.057"/><stop offset="0.4007" stop-color="#717171" stop-opacity="0.065"/><stop offset="0.4048" stop-color="#717171" stop-opacity="0.074"/><stop offset="0.4090" stop-color="#717171" stop-opacity="0.087"/><stop offset="0.4132" stop-color="#717171" stop-opacity="0.103"/><stop offset="0.4174" stop-color="#717171" stop-opacity="0.124"/><stop offset="0.4215" stop-color="#717171" stop-opacity="0.151"/><stop offset="0.4257" stop-color="#717171" stop-opacity="0.183"/><stop offset="0.4299" stop-color="#717171" stop-opacity="0.222"/><stop offset="0.4341" stop-color="#717171" stop-opacity="0.268"/><stop offset="0.4382" stop-color="#717171" stop-opacity="0.320"/><stop offset="0.4424" stop-color="#717171" stop-opacity="0.377"/><stop offset="0.4466" stop-color="#717171" stop-opacity="0.438"/><stop offset="0.4508" stop-color="#717171" stop-opacity="0.501"/><stop offset="0.4549" stop-color="#717171" stop-opacity="0.565"/><stop offset="0.4591" stop-color="#717171" stop-opacity="0.627"/><stop offset="0.4633" stop-color="#717171" stop-opacity="0.686"/><stop offset="0.4674" stop-color="#717171" stop-opacity="0.741"/><stop offset="0.4716" stop-color="#717171" stop-opacity="0.790"/><stop offset="0.4758" stop-color="#717171" stop-opacity="0.833"/><stop offset="0.4800" stop-color="#717171" stop-opacity="0.870"/><stop offset="0.4841" stop-color="#717171" stop-opacity="0.900"/><stop offset="0.4883" stop-color="#717171" stop-opacity="0.925"/><stop offset="0.4925" stop-color="#717171" stop-opacity="0.945"/><stop offset="0.4967" stop-color="#717171" stop-opacity="0.961"/><stop offset="0.5008" stop-color="#717171" stop-opacity="0.972"/><stop offset="0.5050" stop-color="#717171" stop-opacity="0.981"/><stop offset="0.5092" stop-color="#717171" stop-opacity="0.987"/><stop offset="0.5134" stop-color="#717171" stop-opacity="0.992"/><stop offset="0.5175" stop-color="#717171" stop-opacity="0.995"/><stop offset="0.5217" stop-color="#717171" stop-opacity="0.997"/><stop offset="0.5259" stop-color="#717171" stop-opacity="0.998"/><stop offset="0.5342" stop-color="#717171" stop-opacity="0.999"/><stop offset="0.5426" stop-color="#717171" stop-opacity="1.000"/><stop offset="0.5509" stop-color="#717171" stop-opacity="1.000"/><stop offset="0.5593" stop-color="#717171" stop-opacity="1.000"/><stop offset="0.5634" stop-color="#717171" stop-opacity="0.999"/><stop offset="0.5676" stop-color="#717171" stop-opacity="0.998"/><stop offset="0.5718" stop-color="#717171" stop-opacity="0.997"/><stop offset="0.5760" stop-color="#717171" stop-opacity="0.995"/><stop offset="0.5801" stop-color="#717171" stop-opacity="0.991"/><stop offset="0.5843" stop-color="#717171" stop-opacity="0.985"/><stop offset="0.5885" stop-color="#717171" stop-opacity="0.976"/><stop offset="0.5927" stop-color="#717171" stop-opacity="0.963"/><stop offset="0.5968" stop-color="#717171" stop-opacity="0.944"/><stop offset="0.6010" stop-color="#717171" stop-opacity="0.919"/><stop offset="0.6052" stop-color="#717171" stop-opacity="0.887"/><stop offset="0.6093" stop-color="#717171" stop-opacity="0.848"/><stop offset="0.6135" stop-color="#717171" stop-opacity="0.802"/><stop offset="0.6177" stop-color="#717171" stop-opacity="0.749"/><stop offset="0.6219" stop-color="#717171" stop-opacity="0.692"/><stop offset="0.6260" stop-color="#717171" stop-opacity="0.629"/><stop offset="0.6302" stop-color="#717171" stop-opacity="0.559"/><stop offset="0.6344" stop-color="#717171" stop-opacity="0.490"/><stop offset="0.6386" stop-color="#717171" stop-opacity="0.424"/><stop offset="0.6427" stop-color="#717171" stop-opacity="0.365"/><stop offset="0.6469" stop-color="#717171" stop-opacity="0.312"/><stop offset="0.6511" stop-color="#717171" stop-opacity="0.268"/><stop offset="0.6553" stop-color="#717171" stop-opacity="0.231"/><stop offset="0.6594" stop-color="#717171" stop-opacity="0.202"/><stop offset="0.6636" stop-color="#717171" stop-opacity="0.179"/><stop offset="0.6678" stop-color="#717171" stop-opacity="0.160"/><stop offset="0.6720" stop-color="#717171" stop-opacity="0.146"/><stop offset="0.6761" stop-color="#717171" stop-opacity="0.134"/><stop offset="0.6803" stop-color="#717171" stop-opacity="0.124"/><stop offset="0.6845" stop-color="#717171" stop-opacity="0.115"/><stop offset="0.6886" stop-color="#717171" stop-opacity="0.108"/><stop offset="0.6928" stop-color="#717171" stop-opacity="0.101"/><stop offset="0.7012" stop-color="#717171" stop-opacity="0.089"/><stop offset="0.7095" stop-color="#717171" stop-opacity="0.078"/><stop offset="0.7179" stop-color="#717171" stop-opacity="0.069"/><stop offset="0.7262" stop-color="#717171" stop-opacity="0.061"/><stop offset="0.7346" stop-color="#717171" stop-opacity="0.054"/><stop offset="0.7429" stop-color="#717171" stop-opacity="0.047"/><stop offset="0.7513" stop-color="#717171" stop-opacity="0.042"/><stop offset="0.7596" stop-color="#717171" stop-opacity="0.037"/><stop offset="0.7679" stop-color="#717171" stop-opacity="0.033"/><stop offset="0.7763" stop-color="#717171" stop-opacity="0.029"/><stop offset="0.7846" stop-color="#717171" stop-opacity="0.025"/><stop offset="0.7930" stop-color="#717171" stop-opacity="0.022"/><stop offset="0.8013" stop-color="#717171" stop-opacity="0.020"/><stop offset="0.8097" stop-color="#717171" stop-opacity="0.017"/><stop offset="0.8180" stop-color="#717171" stop-opacity="0.015"/><stop offset="0.8264" stop-color="#717171" stop-opacity="0.014"/><stop offset="0.8347" stop-color="#717171" stop-opacity="0.012"/><stop offset="0.8431" stop-color="#717171" stop-opacity="0.011"/><stop offset="0.8514" stop-color="#717171" stop-opacity="0.009"/><stop offset="0.8598" stop-color="#717171" stop-opacity="0.008"/><stop offset="0.8681" stop-color="#717171" stop-opacity="0.007"/><stop offset="0.8765" stop-color="#717171" stop-opacity="0.006"/><stop offset="0.8848" stop-color="#717171" stop-opacity="0.006"/><stop offset="0.8932" stop-color="#717171" stop-opacity="0.005"/><stop offset="0.9015" stop-color="#717171" stop-opacity="0.004"/><stop offset="0.9098" stop-color="#717171" stop-opacity="0.004"/><stop offset="0.9182" stop-color="#717171" stop-opacity="0.003"/><stop offset="0.9265" stop-color="#717171" stop-opacity="0.003"/><stop offset="0.9349" stop-color="#717171" stop-opacity="0.003"/><stop offset="0.9432" stop-color="#717171" stop-opacity="0.002"/><stop offset="0.9516" stop-color="#717171" stop-opacity="0.002"/><stop offset="0.9599" stop-color="#717171" stop-opacity="0.002"/><stop offset="0.9683" stop-color="#717171" stop-opacity="0.002"/><stop offset="0.9766" stop-color="#717171" stop-opacity="0.001"/><stop offset="0.9850" stop-color="#717171" stop-opacity="0.001"/><stop offset="0.9933" stop-color="#717171" stop-opacity="0.001"/></linearGradient>
<linearGradient id="sb3" gradientUnits="userSpaceOnUse" x1="0" y1="125.00" x2="0" y2="242.80"><stop offset="0.0000" stop-color="#737373" stop-opacity="0.000"/><stop offset="0.0085" stop-color="#737373" stop-opacity="0.000"/><stop offset="0.0170" stop-color="#737373" stop-opacity="0.000"/><stop offset="0.0255" stop-color="#737373" stop-opacity="0.000"/><stop offset="0.0340" stop-color="#737373" stop-opacity="0.000"/><stop offset="0.0424" stop-color="#737373" stop-opacity="0.000"/><stop offset="0.0509" stop-color="#737373" stop-opacity="0.000"/><stop offset="0.0594" stop-color="#737373" stop-opacity="0.000"/><stop offset="0.0679" stop-color="#737373" stop-opacity="0.000"/><stop offset="0.0764" stop-color="#737373" stop-opacity="0.000"/><stop offset="0.0849" stop-color="#737373" stop-opacity="0.000"/><stop offset="0.0934" stop-color="#737373" stop-opacity="0.000"/><stop offset="0.1019" stop-color="#737373" stop-opacity="0.000"/><stop offset="0.1104" stop-color="#737373" stop-opacity="0.000"/><stop offset="0.1188" stop-color="#737373" stop-opacity="0.000"/><stop offset="0.1273" stop-color="#737373" stop-opacity="0.000"/><stop offset="0.1358" stop-color="#737373" stop-opacity="0.000"/><stop offset="0.1443" stop-color="#737373" stop-opacity="0.000"/><stop offset="0.1528" stop-color="#737373" stop-opacity="0.000"/><stop offset="0.1613" stop-color="#737373" stop-opacity="0.000"/><stop offset="0.1698" stop-color="#737373" stop-opacity="0.000"/><stop offset="0.1783" stop-color="#737373" stop-opacity="0.000"/><stop offset="0.1868" stop-color="#737373" stop-opacity="0.000"/><stop offset="0.1952" stop-color="#737373" stop-opacity="0.000"/><stop offset="0.2037" stop-color="#737373" stop-opacity="0.000"/><stop offset="0.2122" stop-color="#737373" stop-opacity="0.000"/><stop offset="0.2207" stop-color="#737373" stop-opacity="0.000"/><stop offset="0.2292" stop-color="#737373" stop-opacity="0.000"/><stop offset="0.2377" stop-color="#737373" stop-opacity="0.000"/><stop offset="0.2462" stop-color="#737373" stop-opacity="0.001"/><stop offset="0.2547" stop-color="#737373" stop-opacity="0.001"/><stop offset="0.2632" stop-color="#737373" stop-opacity="0.001"/><stop offset="0.2716" stop-color="#737373" stop-opacity="0.002"/><stop offset="0.2801" stop-color="#737373" stop-opacity="0.002"/><stop offset="0.2886" stop-color="#737373" stop-opacity="0.003"/><stop offset="0.2971" stop-color="#737373" stop-opacity="0.003"/><stop offset="0.3056" stop-color="#737373" stop-opacity="0.004"/><stop offset="0.3141" stop-color="#737373" stop-opacity="0.006"/><stop offset="0.3226" stop-color="#737373" stop-opacity="0.007"/><stop offset="0.3311" stop-color="#737373" stop-opacity="0.008"/><stop offset="0.3396" stop-color="#737373" stop-opacity="0.010"/><stop offset="0.3480" stop-color="#737373" stop-opacity="0.012"/><stop offset="0.3565" stop-color="#737373" stop-opacity="0.015"/><stop offset="0.3650" stop-color="#737373" stop-opacity="0.017"/><stop offset="0.3735" stop-color="#737373" stop-opacity="0.020"/><stop offset="0.3820" stop-color="#737373" stop-opacity="0.022"/><stop offset="0.3905" stop-color="#737373" stop-opacity="0.026"/><stop offset="0.3990" stop-color="#737373" stop-opacity="0.029"/><stop offset="0.4075" stop-color="#737373" stop-opacity="0.035"/><stop offset="0.4117" stop-color="#737373" stop-opacity="0.039"/><stop offset="0.4160" stop-color="#737373" stop-opacity="0.045"/><stop offset="0.4202" stop-color="#737373" stop-opacity="0.053"/><stop offset="0.4244" stop-color="#737373" stop-opacity="0.064"/><stop offset="0.4287" stop-color="#737373" stop-opacity="0.078"/><stop offset="0.4329" stop-color="#737373" stop-opacity="0.098"/><stop offset="0.4372" stop-color="#737373" stop-opacity="0.124"/><stop offset="0.4414" stop-color="#737373" stop-opacity="0.156"/><stop offset="0.4457" stop-color="#737373" stop-opacity="0.196"/><stop offset="0.4499" stop-color="#737373" stop-opacity="0.244"/><stop offset="0.4542" stop-color="#737373" stop-opacity="0.299"/><stop offset="0.4584" stop-color="#737373" stop-opacity="0.360"/><stop offset="0.4626" stop-color="#737373" stop-opacity="0.426"/><stop offset="0.4669" stop-color="#737373" stop-opacity="0.495"/><stop offset="0.4711" stop-color="#737373" stop-opacity="0.564"/><stop offset="0.4754" stop-color="#737373" stop-opacity="0.631"/><stop offset="0.4796" stop-color="#737373" stop-opacity="0.694"/><stop offset="0.4839" stop-color="#737373" stop-opacity="0.752"/><stop offset="0.4881" stop-color="#737373" stop-opacity="0.804"/><stop offset="0.4924" stop-color="#737373" stop-opacity="0.848"/><stop offset="0.4966" stop-color="#737373" stop-opacity="0.885"/><stop offset="0.5008" stop-color="#737373" stop-opacity="0.915"/><stop offset="0.5051" stop-color="#737373" stop-opacity="0.938"/><stop offset="0.5093" stop-color="#737373" stop-opacity="0.957"/><stop offset="0.5136" stop-color="#737373" stop-opacity="0.970"/><stop offset="0.5178" stop-color="#737373" stop-opacity="0.980"/><stop offset="0.5221" stop-color="#737373" stop-opacity="0.987"/><stop offset="0.5263" stop-color="#737373" stop-opacity="0.992"/><stop offset="0.5306" stop-color="#737373" stop-opacity="0.995"/><stop offset="0.5348" stop-color="#737373" stop-opacity="0.997"/><stop offset="0.5390" stop-color="#737373" stop-opacity="0.998"/><stop offset="0.5433" stop-color="#737373" stop-opacity="0.999"/><stop offset="0.5518" stop-color="#737373" stop-opacity="1.000"/><stop offset="0.5560" stop-color="#737373" stop-opacity="1.000"/><stop offset="0.5603" stop-color="#737373" stop-opacity="0.999"/><stop offset="0.5645" stop-color="#737373" stop-opacity="0.998"/><stop offset="0.5688" stop-color="#737373" stop-opacity="0.997"/><stop offset="0.5730" stop-color="#737373" stop-opacity="0.994"/><stop offset="0.5772" stop-color="#737373" stop-opacity="0.989"/><stop offset="0.5815" stop-color="#737373" stop-opacity="0.981"/><stop offset="0.5857" stop-color="#737373" stop-opacity="0.969"/><stop offset="0.5900" stop-color="#737373" stop-opacity="0.951"/><stop offset="0.5942" stop-color="#737373" stop-opacity="0.925"/><stop offset="0.5985" stop-color="#737373" stop-opacity="0.891"/><stop offset="0.6027" stop-color="#737373" stop-opacity="0.846"/><stop offset="0.6070" stop-color="#737373" stop-opacity="0.793"/><stop offset="0.6112" stop-color="#737373" stop-opacity="0.731"/><stop offset="0.6154" stop-color="#737373" stop-opacity="0.664"/><stop offset="0.6197" stop-color="#737373" stop-opacity="0.590"/><stop offset="0.6239" stop-color="#737373" stop-opacity="0.511"/><stop offset="0.6282" stop-color="#737373" stop-opacity="0.434"/><stop offset="0.6324" stop-color="#737373" stop-opacity="0.363"/><stop offset="0.6367" stop-color="#737373" stop-opacity="0.301"/><stop offset="0.6409" stop-color="#737373" stop-opacity="0.248"/><stop offset="0.6452" stop-color="#737373" stop-opacity="0.206"/><stop offset="0.6494" stop-color="#737373" stop-opacity="0.172"/><stop offset="0.6537" stop-color="#737373" stop-opacity="0.147"/><stop offset="0.6579" stop-color="#737373" stop-opacity="0.128"/><stop offset="0.6621" stop-color="#737373" stop-opacity="0.113"/><stop offset="0.6664" stop-color="#737373" stop-opacity="0.102"/><stop offset="0.6706" stop-color="#737373" stop-opacity="0.093"/><stop offset="0.6749" stop-color="#737373" stop-opacity="0.086"/><stop offset="0.6791" stop-color="#737373" stop-opacity="0.079"/><stop offset="0.6834" stop-color="#737373" stop-opacity="0.073"/><stop offset="0.6876" stop-color="#737373" stop-opacity="0.068"/><stop offset="0.6961" stop-color="#737373" stop-opacity="0.059"/><stop offset="0.7046" stop-color="#737373" stop-opacity="0.051"/><stop offset="0.7131" stop-color="#737373" stop-opacity="0.044"/><stop offset="0.7216" stop-color="#737373" stop-opacity="0.039"/><stop offset="0.7301" stop-color="#737373" stop-opacity="0.033"/><stop offset="0.7385" stop-color="#737373" stop-opacity="0.029"/><stop offset="0.7470" stop-color="#737373" stop-opacity="0.025"/><stop offset="0.7555" stop-color="#737373" stop-opacity="0.022"/><stop offset="0.7640" stop-color="#737373" stop-opacity="0.019"/><stop offset="0.7725" stop-color="#737373" stop-opacity="0.016"/><stop offset="0.7810" stop-color="#737373" stop-opacity="0.014"/><stop offset="0.7895" stop-color="#737373" stop-opacity="0.012"/><stop offset="0.7980" stop-color="#737373" stop-opacity="0.011"/><stop offset="0.8065" stop-color="#737373" stop-opacity="0.009"/><stop offset="0.8149" stop-color="#737373" stop-opacity="0.008"/><stop offset="0.8234" stop-color="#737373" stop-opacity="0.007"/><stop offset="0.8319" stop-color="#737373" stop-opacity="0.006"/><stop offset="0.8404" stop-color="#737373" stop-opacity="0.005"/><stop offset="0.8489" stop-color="#737373" stop-opacity="0.005"/><stop offset="0.8574" stop-color="#737373" stop-opacity="0.004"/><stop offset="0.8659" stop-color="#737373" stop-opacity="0.003"/><stop offset="0.8744" stop-color="#737373" stop-opacity="0.003"/><stop offset="0.8829" stop-color="#737373" stop-opacity="0.003"/><stop offset="0.8913" stop-color="#737373" stop-opacity="0.002"/><stop offset="0.8998" stop-color="#737373" stop-opacity="0.002"/><stop offset="0.9083" stop-color="#737373" stop-opacity="0.002"/><stop offset="0.9168" stop-color="#737373" stop-opacity="0.001"/><stop offset="0.9253" stop-color="#737373" stop-opacity="0.001"/><stop offset="0.9338" stop-color="#737373" stop-opacity="0.001"/><stop offset="0.9423" stop-color="#737373" stop-opacity="0.001"/><stop offset="0.9508" stop-color="#737373" stop-opacity="0.001"/><stop offset="0.9593" stop-color="#737373" stop-opacity="0.001"/><stop offset="0.9677" stop-color="#737373" stop-opacity="0.001"/><stop offset="0.9762" stop-color="#737373" stop-opacity="0.001"/><stop offset="0.9847" stop-color="#737373" stop-opacity="0.000"/><stop offset="0.9932" stop-color="#737373" stop-opacity="0.000"/></linearGradient></defs>
<rect x="77.70" y="117.90" width="30.40" height="38.80" fill="url(#lb0)" filter="url(#blh)"/>
<rect x="77.70" y="147.60" width="30.40" height="46.10" fill="url(#lb1)" filter="url(#blh)"/>
<rect x="77.70" y="200.90" width="30.40" height="49.30" fill="url(#lb2)" filter="url(#blh)"/>
<rect x="77.70" y="277.50" width="30.40" height="44.40" fill="url(#lb3)" filter="url(#blh)"/>
<rect x="77.70" y="385.90" width="30.40" height="49.90" fill="url(#lb4)" filter="url(#blh)"/>
<rect x="77.70" y="561.10" width="30.40" height="52.10" fill="url(#lb5)" filter="url(#blh)"/>
<rect x="112.00" y="125.00" width="30.4" height="119.80" fill="url(#sb2)" filter="url(#blh2)"/>
<rect x="146.20" y="125.00" width="30.4" height="117.80" fill="url(#sb3)" filter="url(#blh2)"/>
<rect x="74.75" y="120.25" width="104" height="511.25" fill="none" stroke="#8e8f93" stroke-width="1.5"/>
<line x1="179.5" y1="193.5" x2="193" y2="193.5" stroke="#1a1a1a" stroke-width="1.6"/>
<!-- chart axes -->
<g fill="#1a1a1a">
<rect x="507" y="173" width="3" height="328"/>
<rect x="507" y="490" width="502" height="3"/>
<rect x="497" y="188" width="10" height="3"/>
<rect x="497" y="247.9" width="10" height="3"/>
<rect x="497" y="306.05" width="10" height="3"/>
<rect x="497" y="364.8" width="10" height="3"/>
<rect x="497" y="423.1" width="10" height="3"/>
<rect x="499" y="481.2" width="8" height="2.7"/>
<rect x="573.5" y="493" width="3" height="9"/>
<rect x="740" y="493" width="3" height="7"/>
<rect x="842" y="493" width="3" height="9"/>
<rect x="903.2" y="493" width="3" height="9"/>
<rect x="963" y="493" width="3" height="9"/>
<rect x="994" y="493" width="3" height="9"/>
</g>
<line x1="946.5" y1="163.5" x2="946.5" y2="489" stroke="#a8a8a8" stroke-width="1.2"/>
<polyline fill="none" stroke="#1f8a1f" stroke-width="1.3" stroke-linejoin="round" points="509.0,483.80 509.0,484.10 510.2,484.30 511.4,484.06 512.6,484.26 513.8,484.44 515.0,484.14 516.2,484.11 517.4,483.82 518.6,483.96 519.8,484.12 521.0,484.25 522.2,484.34 523.4,484.04 524.6,483.83 525.8,483.98 527.0,484.42 528.2,483.94 529.4,484.11 530.6,484.44 531.8,483.81 533.0,484.22 534.2,484.46 535.4,483.96 536.6,484.19 537.8,484.44 539.0,483.90 540.2,484.18 541.4,484.34 542.6,484.28 543.8,484.15 545.0,483.96 546.2,484.17 547.4,484.09 548.6,484.16 549.8,484.09 551.0,484.42 552.2,484.37 553.4,484.06 554.6,484.24 555.8,484.03 557.0,484.16 558.2,484.09 559.4,484.31 560.0,484.20 560.6,484.11 561.8,484.17 563.0,484.35 564.2,484.13 565.4,484.48 566.6,483.97 567.8,484.36 569.0,484.13 570.2,484.13 571.4,484.28 572.6,484.20 573.8,484.12 575.0,483.83 576.2,483.89 577.4,484.32 578.6,484.19 579.8,484.30 581.0,484.48 582.2,484.29 583.4,483.85 584.6,484.03 585.8,484.22 587.0,483.97 588.2,484.48 589.4,484.46 590.6,484.39 591.8,484.13 593.0,484.38 594.2,483.88 595.4,484.01 596.6,484.11 597.8,484.31 599.0,484.13 600.2,483.88 601.4,484.02 602.6,484.01 603.8,483.99 605.0,483.89 606.2,484.06 607.4,484.08 608.6,484.31 609.8,484.32 611.0,484.13 612.2,484.09 613.4,484.31 614.6,484.38 615.8,484.23 617.0,484.32 618.2,484.41 619.4,483.78 620.0,484.10 620.6,484.36 621.8,483.93 623.0,484.06 624.2,484.27 625.4,484.21 626.6,483.80 627.8,484.14 629.0,483.72 630.2,483.91 631.4,484.22 632.6,483.94 633.8,484.05 635.0,484.13 636.2,484.19 637.4,484.13 638.6,483.60 639.8,483.87 641.0,483.89 642.2,483.60 643.4,483.93 644.6,483.96 645.8,484.11 647.0,484.18 648.2,483.60 649.4,483.66 650.6,483.95 651.8,483.57 653.0,483.62 654.2,483.86 655.4,483.57 656.6,483.98 657.8,484.03 659.0,483.44 660.2,483.78 661.4,483.95 662.6,484.07 663.8,483.57 665.0,483.48 666.2,483.97 667.4,483.98 668.6,483.47 669.8,483.63 671.0,483.82 672.2,483.89 673.4,483.41 674.6,483.75 675.8,483.84 677.0,483.65 678.2,483.37 679.4,483.27 680.6,483.43 681.8,483.79 683.0,483.24 684.2,483.21 685.4,483.44 686.6,483.22 687.8,483.27 689.0,483.17 690.0,483.50 690.2,483.53 691.4,483.74 692.6,483.63 693.8,483.51 695.0,483.73 696.2,484.00 697.4,484.33 698.6,484.45 699.8,484.01 700.0,484.20 701.0,483.80 702.2,484.31 703.4,484.30 704.6,483.91 705.8,484.06 707.0,484.06 708.2,483.81 709.4,483.92 710.5,483.60 710.6,483.27 711.8,483.48 713.0,483.52 714.2,483.45 715.4,484.04 716.6,483.46 717.8,483.95 719.0,483.56 720.2,483.80 721.4,483.88 722.6,483.75 723.8,484.02 725.0,484.07 726.2,483.96 727.4,484.29 728.6,483.92 729.8,483.98 730.0,484.20 731.0,484.06 732.2,484.03 733.4,483.86 734.6,484.31 735.8,484.20 737.0,483.64 738.2,483.78 739.4,483.64 740.6,483.74 741.8,483.57 743.0,483.68 744.2,483.93 745.4,483.50 746.6,483.64 747.8,483.55 749.0,483.62 750.2,483.09 751.4,483.52 752.6,483.61 753.8,483.32 755.0,483.05 756.2,483.27 757.4,483.25 757.5,483.10 758.6,483.40 759.8,483.25 761.0,483.70 761.0,484.03 762.2,483.93 763.4,483.47 764.6,483.50 765.0,483.40 765.8,482.78 767.0,483.00 768.2,482.44 769.4,481.87 770.0,481.55 770.6,481.78 771.8,481.49 773.0,481.68 774.2,481.74 775.4,482.09 776.6,481.84 777.5,482.20 777.8,482.46 779.0,482.10 780.2,482.02 781.4,481.72 782.6,482.06 783.8,482.09 785.0,481.90 786.2,481.57 787.4,481.88 788.6,481.37 789.8,481.79 790.0,481.55 791.0,481.55 792.2,481.29 793.4,481.38 794.6,481.40 795.8,481.08 797.0,481.43 798.2,481.07 799.4,481.34 800.6,481.23 801.8,480.66 802.5,480.90 803.0,480.78 804.2,480.01 805.4,479.78 806.6,479.10 807.8,478.50 809.0,478.27 810.0,477.55 810.2,477.19 811.4,477.24 812.6,476.78 813.8,476.27 815.0,476.30 815.0,476.48 816.2,477.54 817.4,478.98 818.6,479.97 818.8,480.05 819.8,479.88 821.0,480.26 822.2,479.59 823.4,479.48 824.6,479.89 825.0,479.70 825.8,479.80 827.0,480.08 828.2,480.73 829.4,480.64 830.0,480.90 830.6,481.06 831.8,480.67 833.0,480.23 834.2,479.81 835.4,479.72 836.6,480.01 837.8,479.39 839.0,479.00 840.0,479.05 840.2,478.73 841.4,478.07 842.5,476.80 842.6,476.57 843.8,476.99 845.0,476.54 846.2,477.12 847.4,476.82 847.5,476.80 848.6,477.20 849.8,478.60 851.0,478.98 852.2,480.02 852.5,480.05 853.4,479.96 854.6,479.51 855.8,479.38 857.0,479.26 858.2,479.13 858.8,479.30 859.4,479.13 860.6,479.40 861.8,480.30 863.0,479.97 864.2,480.53 865.0,480.70 865.4,480.38 866.6,480.29 867.8,480.51 869.0,480.48 870.2,479.99 871.4,479.51 872.6,480.05 873.8,479.22 875.0,479.30 876.2,479.25 877.4,479.34 877.5,479.05 878.6,479.55 879.8,479.70 881.0,479.85 882.2,480.46 882.5,480.30 883.4,480.67 884.6,480.81 885.8,480.85 887.0,480.56 887.5,480.90 888.2,480.70 889.4,480.74 890.0,480.70 890.6,480.36 891.8,479.91 893.0,478.82 894.2,478.44 895.4,477.55 896.6,477.15 897.8,476.07 899.0,475.60 899.0,475.58 900.2,473.90 901.4,472.56 902.6,471.65 903.8,469.79 905.0,468.78 906.1,467.20 906.2,466.99 907.4,463.98 908.6,461.83 908.7,461.40 909.8,459.41 911.0,458.12 912.2,455.71 912.5,455.60 913.4,455.06 914.6,453.83 915.1,453.70 915.8,450.22 917.0,444.87 918.2,438.77 918.3,438.30 919.4,437.86 920.6,437.32 920.9,437.00 921.8,434.43 923.0,431.88 924.2,428.87 924.7,427.30 925.4,421.15 926.6,411.30 927.8,400.99 927.9,400.30 929.0,392.61 930.2,383.55 931.4,375.32 932.6,366.95 932.9,364.60 933.8,355.57 935.0,342.88 935.7,336.00 936.2,330.08 937.4,314.89 938.6,300.30 938.6,300.52 939.8,289.61 941.0,278.69 942.2,268.40 943.4,257.77 944.6,247.00 945.8,236.50 947.0,225.32 947.1,224.60 948.2,226.47 948.6,227.40 949.4,232.47 950.6,240.71 951.4,246.00 951.8,253.20 953.0,274.99 953.6,286.00 954.2,298.23 955.4,322.61 955.7,328.90 956.6,343.16 957.8,362.96 957.9,364.60 959.0,382.29 960.1,400.30 960.2,402.05 960.9,414.60 961.4,417.86 962.6,424.44 963.5,430.00 963.8,430.19 965.0,430.57 965.4,430.60 966.2,434.47 967.4,440.64 968.6,446.70 968.6,447.03 969.8,448.16 971.0,449.99 972.2,451.65 972.5,451.80 973.4,453.83 974.6,457.12 975.8,459.70 976.3,460.80 977.0,460.29 978.2,459.56 978.9,458.90 979.4,459.17 980.6,460.16 981.8,460.64 983.0,461.89 984.2,462.40 984.7,462.70 985.4,463.14 986.6,464.33 987.8,465.71 989.0,466.71 989.8,467.20 990.2,467.30 991.4,467.56 992.6,467.92 993.8,468.69 995.0,468.43 996.2,469.32 997.4,469.65 998.6,469.55 998.8,469.80 999.8,470.69 1001.0,472.05 1002.2,473.41 1002.7,473.70 1003.4,474.25 1004.6,474.68 1005.8,474.58 1007.0,474.92 1008.2,475.52 1008.4,475.60"/>
<polyline fill="none" stroke="#1414f0" stroke-width="1.3" stroke-linejoin="round" points="509.0,483.20 509.0,483.50 510.2,483.71 511.4,483.48 512.6,483.69 513.8,483.88 515.0,483.59 516.2,483.57 517.4,483.28 518.6,483.43 519.8,483.60 521.0,483.74 522.2,483.84 523.4,483.56 524.6,483.35 525.8,483.51 527.0,483.96 528.2,483.49 529.4,483.66 530.6,484.01 531.8,483.39 533.0,483.80 534.2,484.06 535.4,483.57 536.6,483.80 537.8,484.07 539.0,483.53 540.0,483.80 540.2,483.81 541.4,483.96 542.6,483.89 543.8,483.73 545.0,483.54 546.2,483.72 547.4,483.63 548.6,483.68 549.8,483.59 551.0,483.91 552.2,483.85 553.4,483.52 554.6,483.68 555.8,483.46 557.0,483.57 558.2,483.49 559.4,483.69 560.6,483.47 561.8,483.52 563.0,483.69 564.2,483.46 565.4,483.79 566.0,483.50 566.6,482.68 567.0,482.50 567.8,482.99 569.0,483.30 569.0,483.25 570.2,483.27 571.4,483.43 572.6,483.37 573.8,483.32 575.0,483.05 576.2,483.13 577.4,483.58 578.6,483.47 579.8,483.61 581.0,483.81 582.2,483.64 583.4,483.22 584.6,483.42 585.8,483.64 587.0,483.40 588.2,483.94 589.4,483.94 590.6,483.89 591.8,483.65 593.0,483.93 594.2,483.45 595.4,483.59 596.6,483.72 597.8,483.93 599.0,483.77 600.0,483.80 600.2,483.54 601.4,483.68 602.6,483.66 603.8,483.64 605.0,483.54 606.2,483.71 607.4,483.73 608.6,483.95 609.8,483.96 611.0,483.76 612.2,483.71 613.4,483.93 614.6,484.00 615.8,483.84 617.0,483.93 618.2,484.02 619.4,483.38 620.6,483.96 621.8,483.53 623.0,483.67 624.2,483.89 625.4,483.83 626.6,483.42 627.8,483.77 629.0,483.35 630.2,483.55 631.4,483.86 632.6,483.59 633.8,483.70 635.0,483.78 636.2,483.84 637.4,483.80 638.6,483.26 639.8,483.55 640.0,483.60 641.0,483.57 642.2,483.29 643.4,483.63 644.6,483.68 645.8,483.83 647.0,483.91 648.2,483.34 649.4,483.41 650.6,483.71 651.8,483.34 653.0,483.41 654.2,483.65 655.4,483.37 656.6,483.80 657.8,483.85 659.0,483.27 660.2,483.62 661.4,483.81 662.6,483.93 663.8,483.44 665.0,483.37 666.2,483.86 667.4,483.89 668.6,483.39 669.8,483.56 671.0,483.75 672.2,483.84 673.4,483.37 674.6,483.72 675.8,483.82 677.0,483.63 678.2,483.37 679.4,483.27 680.0,483.60 680.6,483.36 681.8,483.54 683.0,482.83 684.2,482.62 685.4,482.69 686.6,482.30 687.8,482.18 689.0,481.91 690.2,482.08 690.6,482.00 691.4,482.27 692.6,482.27 693.8,482.25 695.0,482.58 696.2,482.96 697.4,483.39 698.6,483.62 699.8,483.29 700.0,483.50 701.0,483.20 702.2,483.82 703.4,483.93 704.6,483.66 705.0,483.70 705.8,483.77 707.0,483.67 708.2,483.31 709.4,483.32 710.5,482.90 710.6,482.59 711.8,483.00 713.0,483.24 714.2,483.37 715.0,483.80 715.4,484.09 716.6,483.46 717.8,483.90 719.0,483.48 720.2,483.67 721.4,483.70 722.6,483.53 723.8,483.76 725.0,483.76 726.2,483.60 727.4,483.89 728.6,483.48 729.8,483.50 731.0,483.60 732.2,483.61 733.4,483.48 734.6,483.97 735.8,483.90 737.0,483.39 738.2,483.57 739.4,483.46 740.6,483.61 741.8,483.48 743.0,483.63 744.2,483.92 745.4,483.53 746.6,483.71 747.8,483.67 748.0,483.60 749.0,483.64 750.2,482.99 751.4,483.30 752.6,483.27 753.0,482.90 753.8,482.83 755.0,482.40 756.2,482.45 757.4,482.27 757.5,482.10 758.6,482.56 759.8,482.58 761.0,483.20 761.0,483.53 762.2,483.49 763.4,483.09 764.6,483.18 765.0,483.10 765.8,482.06 767.0,481.66 768.2,480.47 769.4,479.27 770.6,478.10 770.6,478.28 771.8,478.55 773.0,479.30 774.2,479.93 775.4,480.84 776.2,481.25 776.6,480.96 777.8,481.53 779.0,481.22 780.2,481.21 781.4,480.97 782.6,481.38 783.8,481.47 785.0,481.25 785.0,481.34 786.2,480.06 787.4,479.43 788.6,477.98 788.8,478.10 789.8,478.09 791.0,477.65 792.2,477.17 792.5,477.25 793.4,477.71 794.6,478.39 795.0,478.50 795.8,478.08 797.0,478.10 798.2,477.42 799.4,477.37 800.6,476.94 801.2,476.50 801.8,476.14 803.0,476.35 804.2,475.94 805.4,476.08 806.6,475.76 807.5,475.60 807.8,475.23 809.0,474.20 810.2,472.27 811.4,471.27 812.5,470.00 812.6,469.89 813.8,469.85 815.0,470.52 816.2,470.55 816.9,470.60 817.4,471.49 818.6,472.75 819.8,474.04 820.0,474.40 821.0,475.08 822.2,474.87 823.4,475.23 824.6,476.11 825.8,476.26 826.2,476.50 827.0,476.35 828.2,476.63 829.4,476.17 830.0,476.25 830.6,476.12 831.8,475.15 833.0,474.13 834.2,473.14 835.4,472.47 836.6,472.18 837.5,471.25 837.8,471.14 839.0,470.77 840.2,470.68 841.4,470.91 842.6,470.20 843.8,470.25 843.8,470.42 845.0,469.28 846.2,469.17 847.4,468.18 847.5,468.10 848.6,468.53 849.8,469.97 851.0,470.38 852.2,471.46 852.5,471.50 853.4,471.86 854.6,472.03 855.8,472.50 857.0,472.99 858.2,473.47 859.4,473.85 860.0,474.40 860.6,474.46 861.8,475.85 863.0,476.01 864.2,477.05 865.4,477.54 866.6,478.36 866.9,478.75 867.8,478.55 869.0,478.16 870.2,477.33 871.2,476.90 871.4,476.48 872.6,476.57 873.8,475.30 875.0,474.93 876.2,474.43 877.4,474.07 877.5,473.75 878.6,473.93 879.8,473.73 881.0,473.54 882.2,473.80 883.4,473.77 883.8,473.50 884.6,473.62 885.8,473.32 887.0,472.70 888.2,472.65 889.4,472.59 890.0,472.50 890.6,471.95 891.8,471.07 892.6,470.10 893.0,470.19 894.2,471.31 895.4,471.93 896.4,472.70 896.6,472.63 897.8,470.64 899.0,469.25 900.2,467.40 901.4,465.90 902.6,464.82 903.8,462.80 904.2,462.40 905.0,459.19 906.2,453.70 906.7,451.50 907.4,450.90 908.6,450.96 909.8,449.97 910.0,450.20 911.0,448.63 912.2,445.90 912.5,445.70 913.4,443.58 914.6,440.24 915.8,437.38 916.4,436.00 917.0,436.18 918.2,435.57 919.0,435.40 919.4,434.37 920.6,431.02 921.5,428.30 921.8,426.29 923.0,419.84 923.5,416.70 924.2,411.68 925.4,402.04 925.7,400.00 926.6,392.88 927.8,383.17 929.0,373.95 929.3,371.40 930.2,364.64 931.4,356.41 932.6,348.04 933.8,339.43 934.3,335.70 935.0,323.53 936.2,303.63 936.4,300.00 937.4,286.48 937.9,280.00 938.6,272.80 939.8,259.86 941.0,246.90 941.4,242.90 942.2,232.40 942.9,222.90 943.4,220.79 944.3,216.40 944.6,216.85 945.8,218.30 946.4,218.60 947.0,218.62 948.2,218.99 948.6,219.30 949.4,224.37 950.0,228.60 950.6,236.77 951.8,252.96 952.1,257.10 953.0,274.55 954.2,298.02 954.3,300.00 955.4,318.54 956.4,335.70 956.6,337.82 957.8,352.91 959.0,367.55 959.3,371.40 960.2,384.64 960.9,395.00 961.4,398.01 962.6,403.99 962.8,405.30 963.8,409.28 965.0,413.93 966.1,418.10 966.2,418.23 967.4,421.74 968.6,425.46 969.3,427.10 969.8,428.34 971.0,431.86 972.2,435.20 973.1,437.40 973.4,437.72 974.6,439.85 975.8,441.28 976.3,441.90 977.0,443.28 978.2,445.80 979.4,447.97 980.2,449.60 980.6,450.31 981.8,451.67 983.0,453.80 984.2,455.20 985.3,456.70 985.4,456.44 986.6,455.66 987.8,455.05 987.9,454.70 989.0,456.32 990.2,457.62 991.4,459.06 992.6,460.60 993.0,461.20 993.8,461.31 995.0,460.37 996.2,460.30 996.2,460.57 997.4,461.96 998.6,462.93 999.8,464.43 1000.7,465.60 1001.0,465.90 1002.2,467.08 1003.4,468.19 1004.6,469.24 1005.8,469.75 1007.0,470.70 1008.2,471.92 1008.4,472.10"/>
</svg>


<div class="t b" id="kda" style="left:26.54px;top:87.80px;font-size:23.5px;transform:scaleX(0.8267)">kDa</div>
<div class="t b" id="l1" style="left:113.20px;top:95.04px;font-size:24.0px;transform:rotate(-45.0deg) scaleX(0.8500)"><span style="display:inline-block;clip-path:polygon(-10px -20px,30px -20px,30px 16.85px,9.24px 16.85px,9.24px 60px,5.25px 60px,5.25px 16.85px,-10px 16.85px)">1</span>:50</div>
<div class="t b" id="l2" style="left:150.20px;top:94.55px;font-size:24.0px;transform:rotate(-45.0deg) scaleX(0.8500)"><span style="display:inline-block;clip-path:polygon(-10px -20px,30px -20px,30px 16.85px,9.24px 16.85px,9.24px 60px,5.25px 60px,5.25px 16.85px,-10px 16.85px)">1</span>:250</div>
<div class="t b" id="m230" style="left:29.20px;top:123.69px;font-size:24.5px;transform:scaleX(0.8542)">230</div>
<div class="t b" id="m180" style="left:29.69px;top:158.80px;font-size:24.5px;transform:scaleX(0.8516)"><span style="display:inline-block;clip-path:polygon(-10px -20px,30px -20px,30px 16.80px,9.43px 16.80px,9.43px 60px,5.37px 60px,5.37px 16.80px,-10px 16.80px)">1</span>80</div>
<div class="t b" id="m116" style="left:29.28px;top:222.80px;font-size:24.5px;transform:scaleX(0.8352)"><span style="display:inline-block;clip-path:polygon(-10px -20px,30px -20px,30px 16.80px,9.43px 16.80px,9.43px 60px,5.37px 60px,5.37px 16.80px,-10px 16.80px)">1</span><span style="display:inline-block;clip-path:polygon(-10px -20px,30px -20px,30px 16.80px,9.43px 16.80px,9.43px 60px,5.37px 60px,5.37px 16.80px,-10px 16.80px)">1</span>6</div>
<div class="t b" id="m66" style="left:41.33px;top:288.20px;font-size:24.5px;transform:scaleX(0.8142)">66</div>
<div class="t b" id="m40" style="left:40.88px;top:396.30px;font-size:24.5px;transform:scaleX(0.8555)">40</div>
<div class="t b" id="m12" style="left:41.05px;top:573.30px;font-size:24.5px;transform:scaleX(0.8522)"><span style="display:inline-block;clip-path:polygon(-10px -20px,30px -20px,30px 16.80px,9.43px 16.80px,9.43px 60px,5.37px 60px,5.37px 16.80px,-10px 16.80px)">1</span>2</div>
<div class="t b" id="bmpr2a" style="left:201.29px;top:176.80px;font-size:26.5px;transform:scaleX(0.7563);letter-spacing:1.2px">BMPR2</div>
<div class="t b" id="bmpr2b" style="left:908.31px;top:127.80px;font-size:26px;transform:scaleX(0.7703);letter-spacing:1.2px">BMPR2</div>
<div class="t b" id="ab" style="left:530.79px;top:171.30px;font-size:24.5px;transform:scaleX(0.8063)">Antibody Dilution</div>
<div class="t" id="d1" style="left:530.48px;top:194.67px;font-size:24.0px;color:#3047a0;transform:scaleX(0.8851)"><span style="display:inline-block;clip-path:polygon(-10px -20px,30px -20px,30px 17.51px,8.36px 17.51px,8.36px 60px,5.84px 60px,5.84px 17.51px,-10px 17.51px)">1</span>:50</div>
<div class="t" id="d2" style="left:531.28px;top:217.08px;font-size:24.0px;color:#137c3e;transform:scaleX(0.8734)"><span style="display:inline-block;clip-path:polygon(-10px -20px,30px -20px,30px 17.51px,8.36px 17.51px,8.36px 60px,5.84px 60px,5.84px 17.51px,-10px 17.51px)">1</span>:250</div>
<div class="t b" id="mo" style="left:531.78px;top:250.30px;font-size:24.0px;transform:scaleX(0.8334)">Model:</div>
<div class="t" id="hu" style="left:531.87px;top:271.60px;font-size:24.2px;transform:scaleX(0.7379)">HUVEC</div>
<div class="t" id="y25" style="left:426.99px;top:174.60px;font-size:25.0px;transform:scaleX(0.8290)">25,000</div>
<div class="t" id="y20" style="left:426.99px;top:234.80px;font-size:25.0px;transform:scaleX(0.8290)">20,000</div>
<div class="t" id="y15" style="left:426.30px;top:292.60px;font-size:25.0px;transform:scaleX(0.8370)"><span style="display:inline-block;clip-path:polygon(-10px -20px,30px -20px,30px 18.43px,8.69px 18.43px,8.69px 60px,6.09px 60px,6.09px 18.43px,-10px 18.43px)">1</span>5,000</div>
<div class="t" id="y10" style="left:426.30px;top:350.72px;font-size:25.0px;transform:scaleX(0.8370)"><span style="display:inline-block;clip-path:polygon(-10px -20px,30px -20px,30px 18.43px,8.69px 18.43px,8.69px 60px,6.09px 60px,6.09px 18.43px,-10px 18.43px)">1</span>0,000</div>
<div class="t" id="y5" style="left:437.60px;top:409.60px;font-size:25.0px;transform:scaleX(0.8299)">5,000</div>
<div class="t" id="y0" style="left:479.99px;top:468.20px;font-size:25.0px;transform:scaleX(0.8327)">0</div>
<div class="t" id="x12" style="left:562.39px;top:505.98px;font-size:25.0px;transform:scaleX(0.8538)"><span style="display:inline-block;clip-path:polygon(-10px -20px,30px -20px,30px 18.43px,8.69px 18.43px,8.69px 60px,6.09px 60px,6.09px 18.43px,-10px 18.43px)">1</span>2</div>
<div class="t" id="x40" style="left:729.48px;top:504.23px;font-size:25.0px;transform:scaleX(0.8432)">40</div>
<div class="t" id="x66" style="left:831.01px;top:505.79px;font-size:25.0px;transform:scaleX(0.8463)">66</div>
<div class="t" id="x116" style="left:884.09px;top:506.94px;font-size:25.0px;transform:scaleX(0.8568)"><span style="display:inline-block;clip-path:polygon(-10px -20px,30px -20px,30px 18.43px,8.69px 18.43px,8.69px 60px,6.09px 60px,6.09px 18.43px,-10px 18.43px)">1</span><span style="display:inline-block;clip-path:polygon(-10px -20px,30px -20px,30px 18.43px,8.69px 18.43px,8.69px 60px,6.09px 60px,6.09px 18.43px,-10px 18.43px)">1</span>6</div>
<div class="t" id="x180" style="left:945.14px;top:506.70px;font-size:25.0px;transform:scaleX(0.8114)"><span style="display:inline-block;clip-path:polygon(-10px -20px,30px -20px,30px 18.43px,8.69px 18.43px,8.69px 60px,6.09px 60px,6.09px 18.43px,-10px 18.43px)">1</span>80230</div>
<div class="t b" id="mw" style="left:703.97px;top:541.80px;font-size:32.0px;transform:scaleX(0.8017)">MW (kDa)</div>
<div class="t b" id="chem" style="left:359.00px;top:442.88px;font-size:31.0px;transform:rotate(-90.0deg) scaleX(0.8010)">Chemiluminescence</div>
</body></html>
